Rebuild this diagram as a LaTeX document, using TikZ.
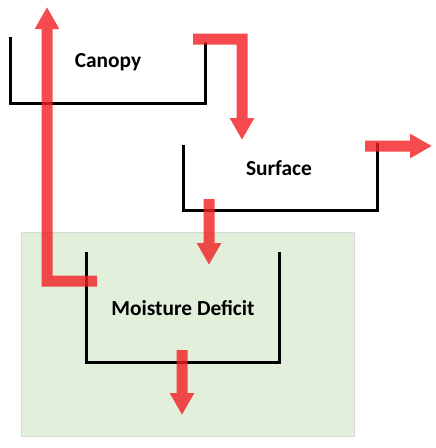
\documentclass[tikz,border=0pt]{standalone}
\usepackage{fontspec}
\setmainfont{Carlito}
\usetikzlibrary{arrows.meta,positioning}
\definecolor{flowred}{RGB}{242,30,35}
\definecolor{soilgreen}{RGB}{226,239,218}

\begin{document}
\begin{tikzpicture}
            [x=1pt,y=-1pt,
            bucket/.style={draw,line width=3pt,line join=miter},
            flow/.style={draw=flowred,line width=11pt,line join=miter,-{Triangle[width=23pt,length=22pt]}},
            lbl/.style={font=\fontsize{21.4}{26}\selectfont\bfseries,anchor=base}]
            \useasboundingbox (0,0) rectangle (436,448);
            \fill[soilgreen,draw=black!15,line width=.6pt] (21,232) rectangle (354,436);
            % stores
            \path[bucket] (10,37) -- (10,103) -- (205,103) -- (205,42);
            \path[bucket] (183,145) -- (183,210) -- (377,210) -- (377,143);
            \path[bucket] (86,252) -- (86,362) -- (279,362) -- (279,252);
            \node[lbl](canopy) at (108,67) {Canopy};
            \node[lbl](surface) at (279,175) {Surface};
            \node[lbl](moisture) at (183,315) {Moisture Deficit};
            % fluxes
            \coordinate (up0) at (97,281);
            \coordinate (up1) at (47,7);
            \coordinate (drip0) at (193,39);
            \coordinate (drip1) at (242,140);
            \coordinate (run0) at (365,146);
            \coordinate (run1) at (432,146);
            \coordinate (inf0) at (209,199);
            \coordinate (inf1) at (209,265);
            \coordinate (dr0) at (182,350);
            \coordinate (dr1) at (182,415);
            \begin{scope}[transparency group,opacity=.8]
            \path[flow] (up0) -| (up1);
            \path[flow] (drip0) -| (drip1);
            \path[flow] (run0) -- (run1);
            \path[flow] (inf0) -- (inf1);
            \path[flow] (dr0) -- (dr1);
            \end{scope}
        \end{tikzpicture}
\end{document}
